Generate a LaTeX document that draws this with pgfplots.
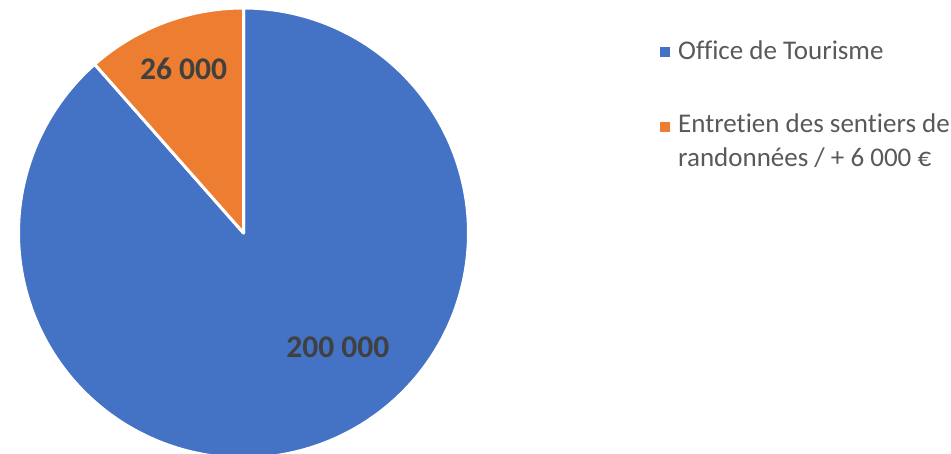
\documentclass[border=0pt]{standalone}
\usepackage{pgfplots}
\pgfplotsset{compat=1.18}
\usepackage{pgfplotstable}
\usepackage{fontspec}
\setmainfont[Ligatures=NoCommon]{Carlito}
\definecolor{cblue}{HTML}{4472C4}
\definecolor{corange}{HTML}{ED7D31}
\definecolor{ctext}{HTML}{595959}
\definecolor{clabel}{HTML}{404040}
\pgfplotstableread{
label value
office 200000
sentiers 26000
}\piedata
\pgfplotstablegetelem{0}{value}\of\piedata \let\va\pgfplotsretval
\pgfplotstablegetelem{1}{value}\of\piedata \let\vb\pgfplotsretval
\edef\aend{\fpeval{90+360*\vb/(\va+\vb)}}
\begin{document}
\begin{tikzpicture}
\useasboundingbox (0pt,0pt) rectangle (951pt,454pt);
\clip (0pt,0pt) rectangle (951pt,454pt);
\begin{axis}[
  at={(243.5pt,221pt)}, anchor=center,
  scale only axis, width=450pt, height=450pt,
  xmin=-1, xmax=1, ymin=-1, ymax=1,
  hide axis, clip=false,
]
\addplot[fill=cblue, draw=white, line width=3pt, line join=round, domain=\aend:450, samples=300, variable=\t]
  ({cos(t)},{sin(t)}) -- (axis cs:0,0) -- cycle;
\addplot[fill=corange, draw=white, line width=3pt, line join=round, domain=90:\aend, samples=80, variable=\t]
  ({cos(t)},{sin(t)}) -- (axis cs:0,0) -- cycle;
\node[font=\fontsize{31.5}{36}\selectfont\bfseries, text=clabel, inner sep=0] at (axis cs:-0.266,0.729) {26 000};
\node[font=\fontsize{31.5}{36}\selectfont\bfseries, text=clabel, inner sep=0] at (axis cs:0.419,-0.507) {200 000};
\end{axis}
\fill[cblue] (660pt,397pt) rectangle (670pt,407pt);
\node[anchor=base west, text=ctext, font=\fontsize{27}{32}\selectfont, inner sep=0] at (678pt,394pt) {Office de Tourisme};
\fill[corange] (660pt,322pt) rectangle (670pt,332pt);
\node[anchor=base west, text=ctext, font=\fontsize{27}{32}\selectfont, inner sep=0] at (678pt,321pt) {Entretien des sentiers de};
\node[anchor=base west, text=ctext, font=\fontsize{27}{32}\selectfont, inner sep=0] at (678pt,287pt) {randonnées / + 6 000 €};
\end{tikzpicture}
\end{document}
